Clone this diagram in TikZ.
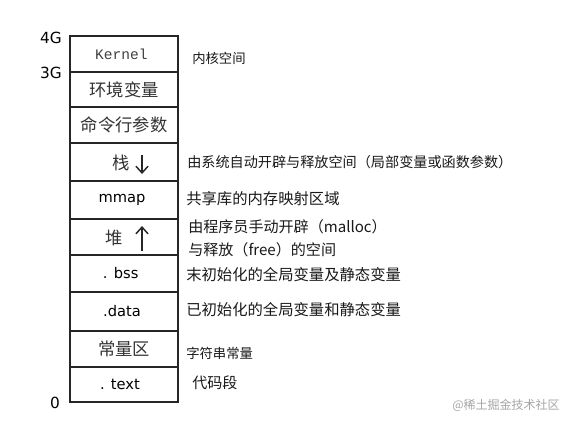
\documentclass[tikz,border=0pt]{standalone}
\usepackage{fontspec}
\setmainfont{DejaVu Sans}
\newfontfamily\cjk{Noto Sans CJK SC}
\newfontfamily\mono{Liberation Mono}
\usetikzlibrary{arrows.meta}
\begin{document}
\begin{tikzpicture}[x=0.75pt,y=-0.75pt,
  seg/.style={draw=black!85,line width=1.1pt,minimum width=81pt,inner sep=0pt,outer sep=0pt,anchor=center},
  cn/.style={font=\cjk\fontsize{13}{15}\selectfont,text=black!80},
  ln/.style={font=\fontsize{11}{13}\selectfont,text=black},
  addr/.style={font=\fontsize{11.5}{13}\selectfont,inner sep=0pt},
  desc/.style={anchor=west,inner sep=0pt,text=black!90},
  growarrow/.style={line width=1.1pt,black!85,-{Straight Barb[length=5pt,width=9pt,line width=1.1pt]}}]
\useasboundingbox (0,0) rectangle (572,426);
\fill[white] (0,0) rectangle (572,426);
% memory segments
\node[seg,minimum height=27pt] (r1) at (124,54) {\hspace*{-4pt}\mono\fontsize{10.9}{12}\selectfont\color{black!75}Kernel};
\node[seg,minimum height=26.25pt,cn] (r2) at (124,89.5) {环境变量};
\node[seg,minimum height=27pt,cn] (r3) at (124,125) {命令行参数};
\node[seg,minimum height=28.5pt] (r4) at (124,162) {};
\node[seg,minimum height=28.5pt,ln] (r5) at (124,200) {\hspace*{-3pt}mmap};
\node[seg,minimum height=27pt] (r6) at (124,237) {};
\node[seg,minimum height=27.75pt,ln] (r7) at (124,273.5) {\hspace*{-5pt}. bss};
\node[seg,minimum height=29.25pt,ln] (r8) at (124,311.5) {\hspace*{-3pt}.data};
\node[seg,minimum height=27pt,cn] (r9) at (124,349) {常量区};
\node[seg,minimum height=26.25pt,ln] (r10) at (124,384.5) {\hspace*{-6pt}. text};
% stack / heap labels and growth arrows
\node[cn,inner sep=0pt] (stk) at (121,163) {栈};
\node[cn,inner sep=0pt] (hp) at (114,238) {堆};
\coordinate (sa1) at (142,155);
\coordinate (sa2) at (142,174);
\coordinate (ha1) at (142,251);
\coordinate (ha2) at (142,226);
\draw[growarrow] (sa1) -- (sa2);
\draw[growarrow] (ha1) -- (ha2);
% addresses
\node[addr] (a4) at (51,38) {4G};
\node[addr] (a3) at (51,73) {3G};
\node[addr] (a0) at (55,403) {0};
% descriptions
\node[desc,font=\cjk\fontsize{10}{12}\selectfont] (d1) at (192,58) {内核空间};
\node[desc,font=\cjk\fontsize{10.6}{12}\selectfont] (d4) at (187,162) {由系统自动开辟与释放空间（局部变量或函数参数）};
\node[desc,font=\cjk\fontsize{11.5}{13}\selectfont] (d5) at (186,199) {共享库的内存映射区域};
\node[desc,font=\cjk\fontsize{11.3}{13}\selectfont] (d6a) at (188,227) {由程序员手动开辟（malloc）};
\node[desc,font=\cjk\fontsize{11.3}{13}\selectfont] (d6b) at (188,250) {与释放（free）的空间};
\node[desc,font=\cjk\fontsize{11.5}{13}\selectfont] (d7) at (186,275) {末初始化的全局变量及静态变量};
\node[desc,font=\cjk\fontsize{11.5}{13}\selectfont] (d8) at (186,310) {已初始化的全局变量和静态变量};
\node[desc,font=\cjk\fontsize{10}{12}\selectfont] (d9) at (186,353) {字符串常量};
\node[desc,font=\cjk\fontsize{11.3}{13}\selectfont] (d10) at (192,383) {代码段};
% watermark
\node[desc,font=\cjk\fontsize{9}{11}\selectfont,text=black!35] (wm) at (452,405) {@稀土掘金技术社区};
\end{tikzpicture}
\end{document}
